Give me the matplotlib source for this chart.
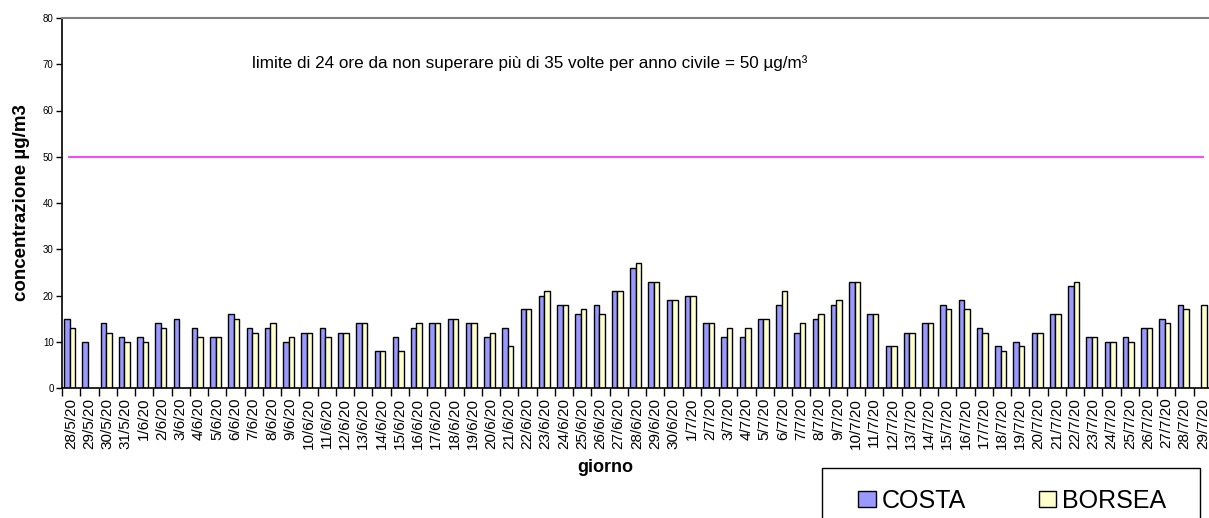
import matplotlib.pyplot as plt
from matplotlib.patches import Patch, Rectangle
import numpy as np

plt.rcParams['font.family'] = ['Liberation Sans', 'DejaVu Sans']

# giorni di misura
giorni = ['28/5/20', '29/5/20', '30/5/20', '31/5/20',
          '1/6/20', '2/6/20', '3/6/20', '4/6/20', '5/6/20', '6/6/20', '7/6/20',
          '8/6/20', '9/6/20', '10/6/20', '11/6/20', '12/6/20', '13/6/20', '14/6/20',
          '15/6/20', '16/6/20', '17/6/20', '18/6/20', '19/6/20', '20/6/20', '21/6/20',
          '22/6/20', '23/6/20', '24/6/20', '25/6/20', '26/6/20', '27/6/20', '28/6/20',
          '29/6/20', '30/6/20',
          '1/7/20', '2/7/20', '3/7/20', '4/7/20', '5/7/20', '6/7/20', '7/7/20',
          '8/7/20', '9/7/20', '10/7/20', '11/7/20', '12/7/20', '13/7/20', '14/7/20',
          '15/7/20', '16/7/20', '17/7/20', '18/7/20', '19/7/20', '20/7/20', '21/7/20',
          '22/7/20', '23/7/20', '24/7/20', '25/7/20', '26/7/20', '27/7/20', '28/7/20',
          '29/7/20']

# concentrazioni (NaN = dato mancante)
nan = np.nan
costa = [15, 10, 14, 11,
         11, 14, 15, 13, 11, 16, 13,
         13, 10, 12, 13, 12, 14, 8,
         11, 13, 14, 15, 14, 11, 13,
         17, 20, 18, 16, 18, 21, 26,
         23, 19,
         20, 14, 11, 11, 15, 18, 12,
         15, 18, 23, 16, 9, 12, 14,
         18, 19, 13, 9, 10, 12, 16,
         22, 11, 10, 11, 13, 15, 18,
         nan]
borsea = [13, nan, 12, 10,
          10, 13, nan, 11, 11, 15, 12,
          14, 11, 12, 11, 12, 14, 8,
          8, 14, 14, 15, 14, 12, 9,
          17, 21, 18, 17, 16, 21, 27,
          23, 19,
          20, 14, 13, 13, 15, 21, 14,
          16, 19, 23, 16, 9, 12, 14,
          17, 17, 12, 8, 9, 12, 16,
          23, 11, 10, 10, 13, 14, 17,
          18]
limite = 50

fig = plt.figure(figsize=(12.09, 5.18), dpi=100)
# the plot area runs a little past the right edge, as in the original
ax = fig.add_axes([62 / 1209, 1 - 388 / 518, 1150 / 1209, 370 / 518])

x = np.arange(len(giorni))
w = 0.3
ax.bar(x - w / 2 - 0.08, costa, w, color='#9999ff', edgecolor='black', linewidth=1)
ax.bar(x + w / 2 - 0.08, borsea, w, color='#ffffcc', edgecolor='black', linewidth=1)
ax.plot([-0.1, 62.0], [limite, limite], color='#ff33ff', linewidth=1.3)

ax.text(9.9, 70.3, 'limite di 24 ore da non superare più di 35 volte per anno civile = 50 µg/m³',
        fontsize=12.3, va='center', ha='left')

ax.set_xlim(-0.5, len(giorni) - 0.5)
ax.set_ylim(0, 80)
ax.set_yticks(range(0, 81, 10))
ax.tick_params(axis='y', labelsize=7, length=4, width=1, pad=2)

ax.set_xticks(x)
ax.set_xticklabels(giorni, rotation=90, fontsize=11)
ax.set_xticks(np.arange(-0.5, len(giorni), 1), minor=True)
ax.tick_params(axis='x', which='major', length=0, pad=7)
ax.tick_params(axis='x', which='minor', length=6, width=1)

ax.spines['right'].set_visible(False)
ax.spines['top'].set_color('#808080')
ax.spines['top'].set_linewidth(1.5)
ax.spines['left'].set_linewidth(1.2)
ax.spines['bottom'].set_linewidth(1.2)

ax.set_ylabel('concentrazione µg/m3', fontsize=13.5, fontweight='bold', labelpad=9)
fig.text(605 / 1209, 1 - 468 / 518, 'giorno', fontsize=13, fontweight='bold',
         ha='center', va='center')

# legend box (runs off the bottom of the image in the original)
fig.patches.append(Rectangle((822 / 1209, 1 - 560 / 518), 378 / 1209, 92 / 518,
                             transform=fig.transFigure, facecolor='white',
                             edgecolor='black', linewidth=1))
handles = [Patch(facecolor='#9999ff', edgecolor='black', label='COSTA'),
           Patch(facecolor='#ffffcc', edgecolor='black', label='BORSEA')]
leg = fig.legend(handles=handles, loc='center left', bbox_to_anchor=(858 / 1209, 1 - 501 / 518),
                 ncol=2, fontsize=18, frameon=False, borderpad=0,
                 handlelength=0.7, handleheight=0.6, handletextpad=0.25, columnspacing=2.9,
                 borderaxespad=0)

fig.savefig('out.png', dpi=100)
